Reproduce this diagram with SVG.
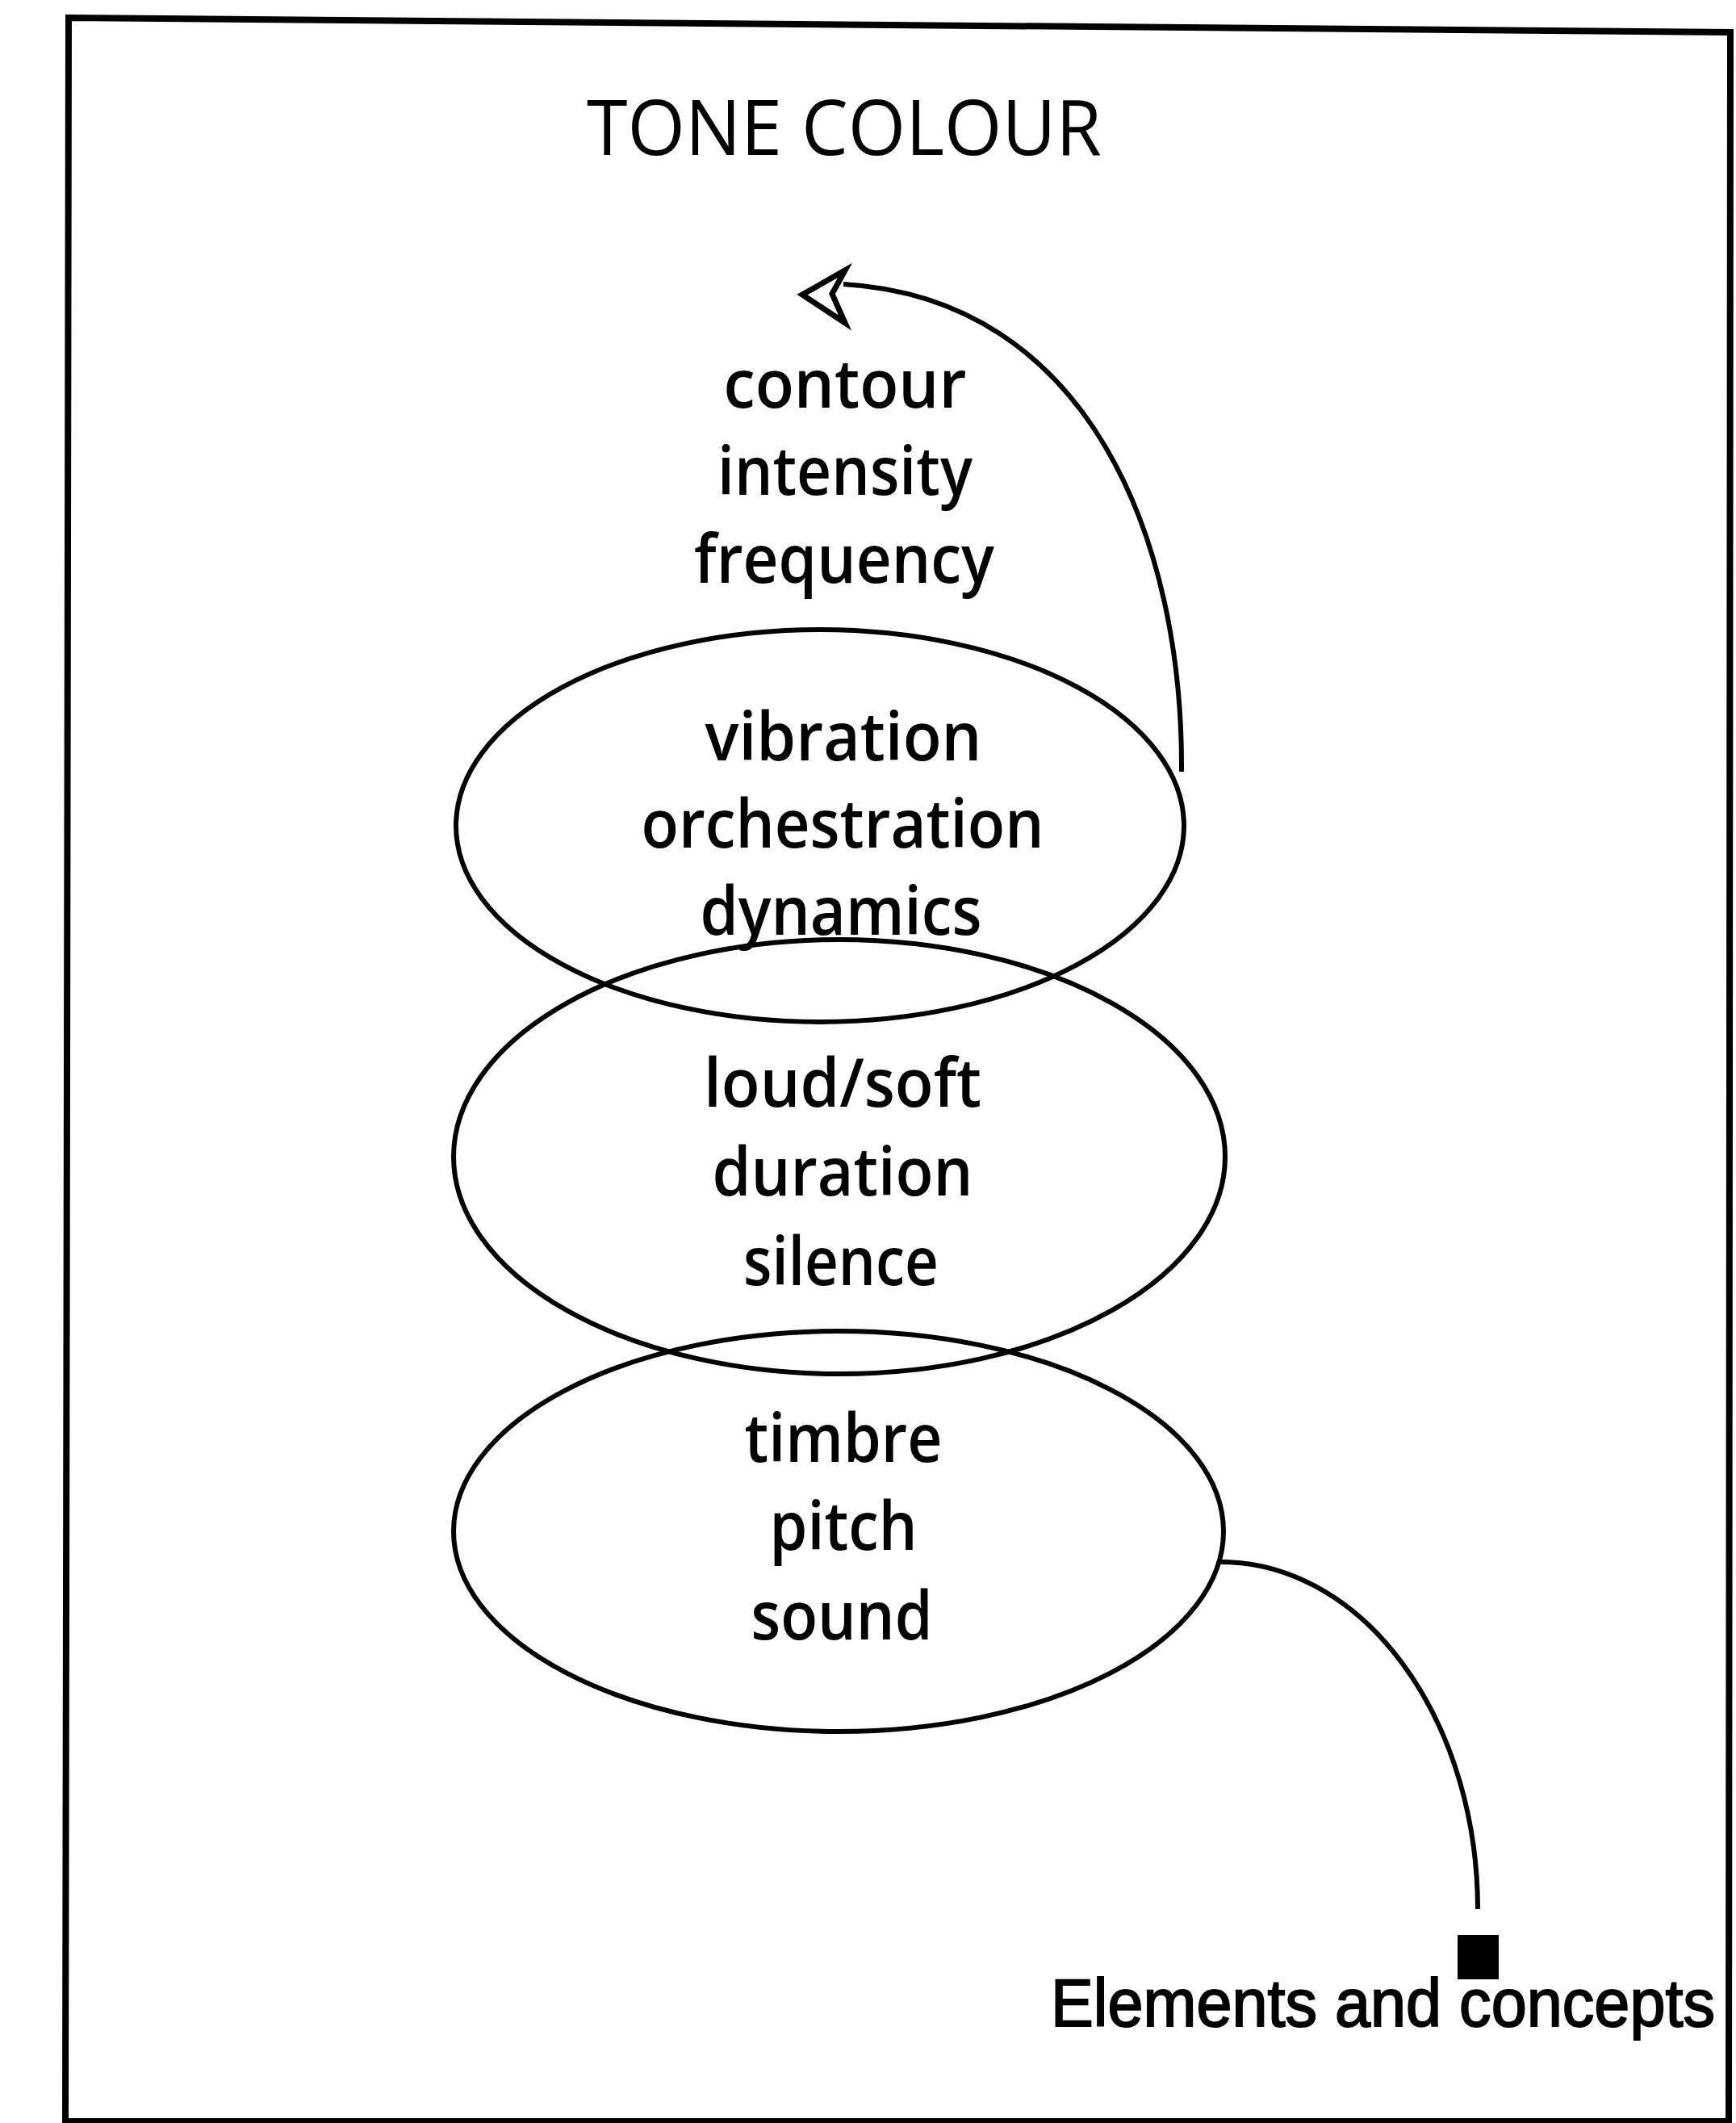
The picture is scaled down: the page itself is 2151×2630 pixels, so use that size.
<svg xmlns="http://www.w3.org/2000/svg" width="2151" height="2630" viewBox="0 0 2151 2630">
  <style>
    .frame { fill: none; stroke: #000; stroke-width: 8; stroke-linejoin: miter; }
    .ring { fill: none; stroke: #000; stroke-width: 6; }
    .link { fill: none; stroke: #000; stroke-width: 6; stroke-linecap: butt; }
    .lbl { font-family: "Open Sans", "Noto Sans", "DejaVu Sans", sans-serif; font-size: 84px; font-weight: 600; fill: #000; text-anchor: middle; }
    .title { font-family: "Open Sans", "Noto Sans", "DejaVu Sans", sans-serif; font-size: 96px; font-weight: 500; fill: #000; text-anchor: middle; }
    .legend { font-family: "Liberation Sans", Arial, sans-serif; font-size: 84px; fill: #000; stroke: #000; stroke-width: 2; }
  </style>

  <rect x="0" y="0" width="2151" height="2630" fill="#fff"/>

  <!-- outer frame, slightly skewed -->
  <polygon class="frame" points="85,22 2144,40 2142,2628 81,2628"/>

  <text class="title" x="1046" y="192" textLength="638" lengthAdjust="spacingAndGlyphs">TONE COLOUR</text>

  <!-- free-standing terms above the rings -->
  <g id="node-top">
    <text class="lbl" x="1047" y="505" textLength="301" lengthAdjust="spacingAndGlyphs">contour</text>
    <text class="lbl" x="1047" y="613" textLength="316" lengthAdjust="spacingAndGlyphs">intensity</text>
    <text class="lbl" x="1046" y="722" textLength="372" lengthAdjust="spacingAndGlyphs">frequency</text>
  </g>

  <g id="node-vibration">
    <ellipse class="ring" cx="1016" cy="1023" rx="451" ry="243"/>
    <text class="lbl" x="1045" y="942" textLength="343" lengthAdjust="spacingAndGlyphs">vibration</text>
    <text class="lbl" x="1044" y="1050" textLength="499" lengthAdjust="spacingAndGlyphs">orchestration</text>
    <text class="lbl" x="1042" y="1158" textLength="349" lengthAdjust="spacingAndGlyphs">dynamics</text>
  </g>

  <g id="node-loudsoft">
    <ellipse class="ring" cx="1040" cy="1433" rx="478" ry="269"/>
    <text class="lbl" x="1044" y="1371" textLength="344" lengthAdjust="spacingAndGlyphs">loud/soft</text>
    <text class="lbl" x="1044" y="1481" textLength="323" lengthAdjust="spacingAndGlyphs">duration</text>
    <text class="lbl" x="1042" y="1592" textLength="242" lengthAdjust="spacingAndGlyphs">silence</text>
  </g>

  <g id="node-timbre">
    <ellipse class="ring" cx="1039" cy="1897" rx="477" ry="248"/>
    <text class="lbl" x="1045" y="1811" textLength="245" lengthAdjust="spacingAndGlyphs">timbre</text>
    <text class="lbl" x="1045" y="1920" textLength="183" lengthAdjust="spacingAndGlyphs">pitch</text>
    <text class="lbl" x="1043" y="2031" textLength="225" lengthAdjust="spacingAndGlyphs">sound</text>
  </g>

  <g id="node-legend">
    <rect x="1806" y="2397" width="51" height="55" fill="#000"/>
    <text class="legend" x="1302" y="2510" textLength="823" lengthAdjust="spacingAndGlyphs">Elements and concepts</text>
  </g>

  <g id="connectors">
    <path class="link" d="M1464,956 C1466,670 1350,370 1045,352"/>
    <polygon points="994,365 1047,335 1031,364 1047,400" fill="#fff" stroke="#000" stroke-width="7" stroke-linejoin="miter"/>
    <path class="link" d="M1513,1935 A318,430 0 0 1 1831,2365"/>
  </g>
</svg>
